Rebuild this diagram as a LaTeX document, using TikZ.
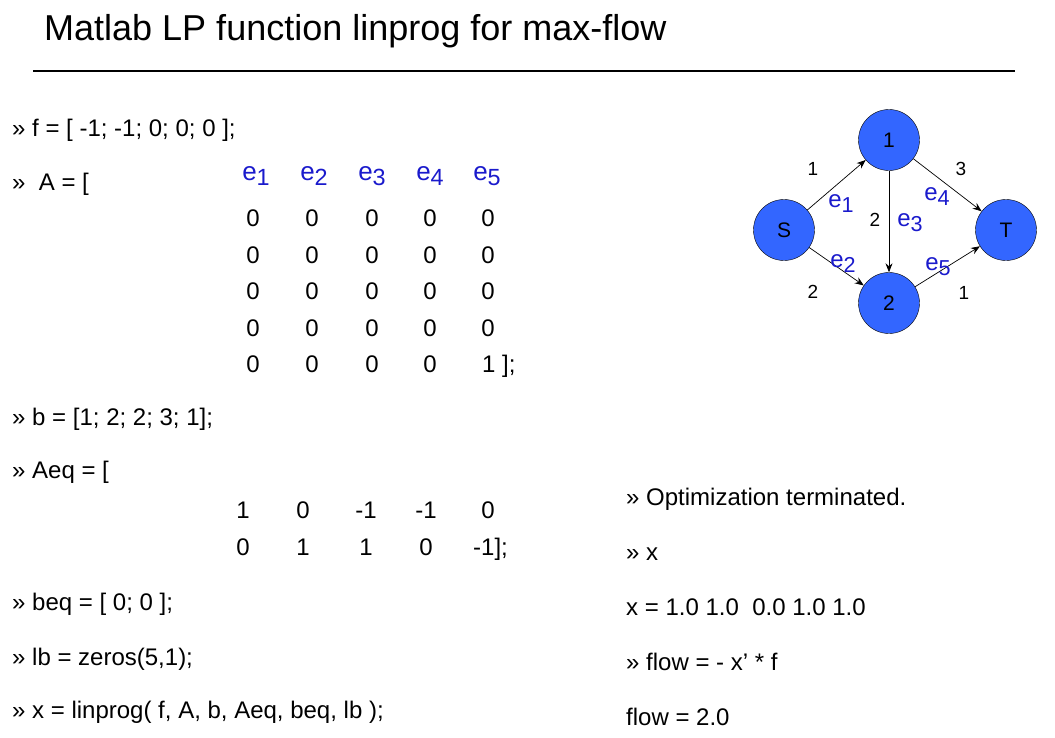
\documentclass[tikz,border=0pt]{standalone}
\usepackage{fontspec}
\setmainfont{Liberation Sans}
\usetikzlibrary{arrows.meta}
\definecolor{nodeblue}{HTML}{3366FF}
\definecolor{lblue}{HTML}{1A1ACC}
\newcommand\esub[1]{e\raisebox{-0.4ex}{\scalebox{0.9}{#1}}}
\begin{document}
\begin{tikzpicture}[x=1pt,y=-1pt,
  code/.style={anchor=base west,inner sep=0pt,font=\fontsize{24}{28}\selectfont},
  num/.style={anchor=base,inner sep=0pt,font=\fontsize{24}{28}\selectfont},
  ev/.style={anchor=base,inner sep=0pt,text=lblue,font=\fontsize{26}{30}\selectfont},
  vtx/.style={circle,draw=black,fill=nodeblue,minimum size=61pt,inner sep=0pt,font=\fontsize{21}{24}\selectfont},
  edge/.style={-{Stealth[length=9pt,width=7pt]},line width=0.7pt},
  wlab/.style={inner sep=0pt,font=\fontsize{19}{22}\selectfont},
  el/.style={inner sep=0pt,text=lblue,font=\fontsize{24}{28}\selectfont}]
\useasboundingbox (0,0) rectangle (1055,737);
\node[anchor=base west,inner sep=0pt,font=\fontsize{36}{40}\selectfont] (title) at (44,40) {Matlab LP function linprog for max-flow};
\coordinate (r1) at (33,71); \coordinate (r2) at (1015,71);
\draw[line width=1.2pt] (r1) -- (r2);
\node[code] (c1) at (12,136) {>> f = [ -1; -1; 0; 0; 0 ];};
\node[code] (c2) at (12,190) {>>\ \ A = [};
\foreach \i/\x in {1/256,2/314,3/372,4/430,5/487}
  \node[ev] (e\i) at (\x,180) {\esub{\i}};
\foreach \r/\y in {1/226,2/263,3/299,4/336,5/372}{
  \foreach \c/\x in {1/253,2/312,3/372,4/430,5/488}{
    \ifnum\r=5 \ifnum\c=5 \else
      \node[num] (m\r\c) at (\x,\y) {\ifnum\r=\c 1\else 0\fi};\fi
    \else \node[num] (m\r\c) at (\x,\y) {\ifnum\r=\c 1\else 0\fi};\fi
  }}
\node[code] (m55) at (482,372) {1 ];};
\node[code] (c3) at (12,425) {>> b = [1; 2; 2; 3; 1];};
\node[code] (c4) at (12,478) {>> Aeq = [};
\node[num] (q11) at (243,518) {1};
\node[num] (q12) at (303,518) {0};
\node[num] (q13) at (366,518) {-1};
\node[num] (q14) at (426,518) {-1};
\node[num] (q15) at (488,518) {0};
\node[num] (q21) at (243,555) {0};
\node[num] (q22) at (303,555) {1};
\node[num] (q23) at (366,555) {1};
\node[num] (q24) at (426,555) {0};
\node[code] (q25) at (473,555) {-1];};
\node[code] (c5) at (12,610) {>> beq = [ 0; 0 ];};
\node[code] (c6) at (12,665) {>> lb = zeros(5,1);};
\node[code] (c7) at (12,718) {>> x = linprog( f, A, b, Aeq, beq, lb );};
\node[code] (o1) at (626,505) {>> Optimization terminated.};
\node[code] (o2) at (626,560) {>> x};
\node[code] (o3) at (626,615) {x = 1.0 1.0\ \ 0.0 1.0 1.0};
\node[code] (o4) at (626,670) {>> flow = - x’ * f};
\node[code] (o5) at (626,725) {flow = 2.0};
\node[vtx] (S) at (784,230) {S};
\node[vtx] (n1) at (889,140) {1};
\node[vtx] (n2) at (889,303) {2};
\node[vtx] (T) at (1006,230) {T};
\draw[edge] (S) -- (n1);
\draw[edge] (S) -- (n2);
\draw[edge] (n1) -- (n2);
\draw[edge] (n1) -- (T);
\draw[edge] (n2) -- (T);
\node[wlab] (w1) at (813,169) {1};
\node[wlab] (w2) at (813,292) {2};
\node[wlab] (w3) at (875,220) {2};
\node[wlab] (w4) at (961,169) {3};
\node[wlab] (w5) at (964,293) {1};
\node[el] (l1) at (841,204) {\esub{1}};
\node[el] (l2) at (843,264) {\esub{2}};
\node[el] (l3) at (910,223) {\esub{3}};
\node[el] (l4) at (937,197) {\esub{4}};
\node[el] (l5) at (938,267) {\esub{5}};
\end{tikzpicture}
\end{document}
